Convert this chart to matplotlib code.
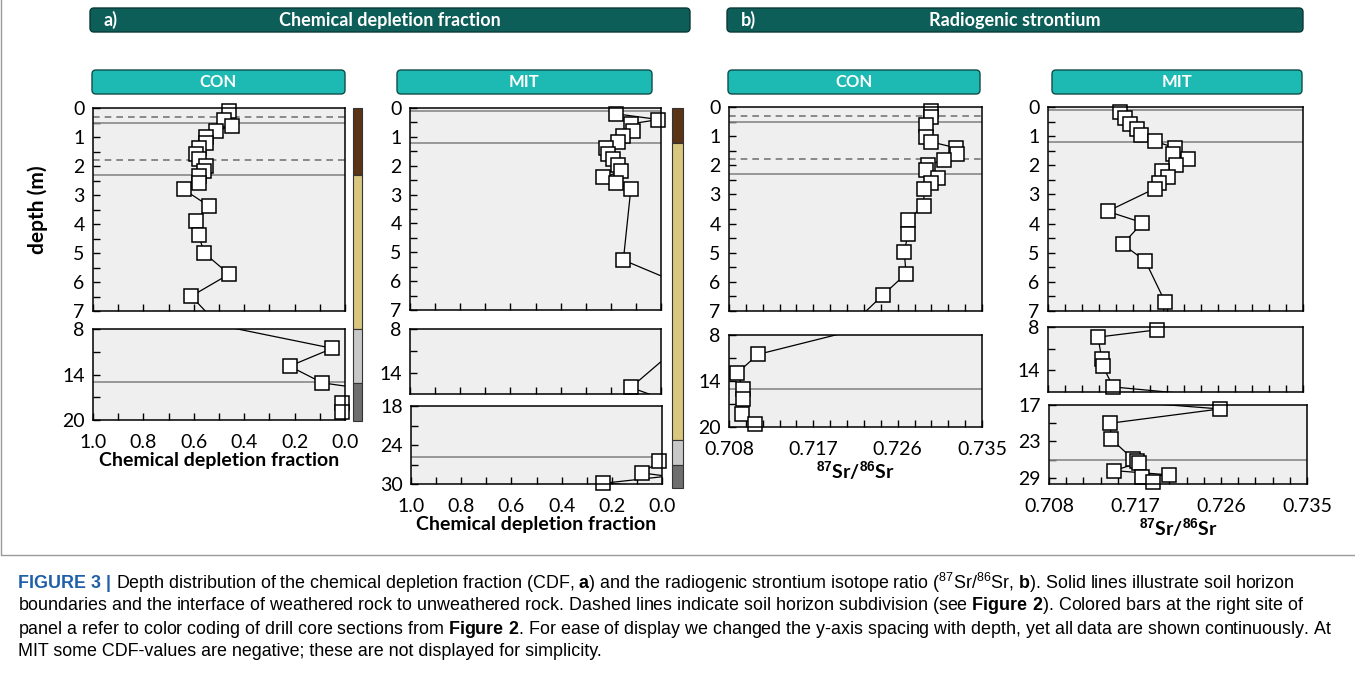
import numpy as np
import matplotlib
matplotlib.use("Agg")
from matplotlib import pyplot as plt
from matplotlib.patches import FancyBboxPatch, Rectangle

plt.rcParams['font.family'] = ['Lato', 'DejaVu Sans']
plt.rcParams['mathtext.fontset'] = 'custom'
plt.rcParams['mathtext.rm'] = 'Liberation Sans'
plt.rcParams['mathtext.bf'] = 'Liberation Sans:bold'

# 数据: CDF (CON / MIT), 深度 (m)
con_cdf = [0.46, 0.48, 0.45, 0.51, 0.55, 0.55, 0.58, 0.59, 0.58, 0.55, 0.56, 0.58, 0.58, 0.64,
           0.54, 0.59, 0.58, 0.56, 0.46, 0.61, 0.50, 0.05, 0.22, 0.09, -0.10, 0.01, 0.01]
con_cdf_depth = [0.12, 0.40, 0.61, 0.79, 1.00, 1.19, 1.39, 1.59, 1.77, 2.00, 2.18, 2.34, 2.60, 2.81,
                 3.38, 3.88, 4.37, 4.99, 5.73, 6.49, 7.50, 10.55, 12.90, 15.10, 16.0, 17.7, 18.9]
mit_cdf = [0.18, 0.01, 0.12, 0.11, 0.15, 0.17, 0.22, 0.21, 0.19, 0.17, 0.16, 0.23, 0.18, 0.12,
           0.15, -0.05, -0.10, -0.05, 0.12, -0.20, 0.01, 0.08, -0.02, 0.235, -0.05]
mit_cdf_depth = [0.20, 0.40, 0.55, 0.78, 0.98, 1.19, 1.39, 1.59, 1.77, 1.97, 2.20, 2.40, 2.60, 2.79,
                 5.27, 6.00, 8.00, 11.0, 16.0, 20.0, 26.5, 28.3, 28.8, 29.9, 30.5]

# 数据: 87Sr/86Sr
con_sr = [0.7296, 0.7296, 0.7290, 0.7290, 0.7296, 0.7322, 0.7323, 0.7309, 0.7292, 0.7290, 0.7303,
          0.7296, 0.7288, 0.7288, 0.7271, 0.7271, 0.7267, 0.7269, 0.7244, 0.7210, 0.7111, 0.7089,
          0.7095, 0.7095, 0.7094, 0.7108]
con_sr_depth = [0.14, 0.34, 0.63, 1.03, 1.20, 1.40, 1.60, 1.81, 2.00, 2.17, 2.43, 2.61, 2.80, 3.38,
                3.87, 4.37, 4.98, 5.72, 6.46, 7.50, 10.53, 12.93, 15.07, 16.30, 18.35, 19.60]
mit_sr = [0.7156, 0.7162, 0.7167, 0.7174, 0.7178, 0.7193, 0.7215, 0.7212, 0.7228, 0.7216, 0.7201,
          0.7207, 0.7198, 0.7193, 0.7143, 0.7180, 0.7159, 0.7183, 0.7204, 0.7195, 0.7133, 0.7137,
          0.7138, 0.7149, 0.7259, 0.7144, 0.7145, 0.7168, 0.7172, 0.7174, 0.7148, 0.7206, 0.7177, 0.7189]
mit_sr_depth = [0.17, 0.37, 0.57, 0.77, 0.97, 1.18, 1.40, 1.60, 1.80, 2.00, 2.21, 2.40, 2.61, 2.80,
                3.58, 3.97, 4.71, 5.28, 6.69, 8.40, 9.40, 12.5, 13.4, 16.3, 17.65, 20.0, 22.6, 25.9,
                26.2, 26.5, 27.8, 28.5, 28.8, 29.6]

W, H = 1355, 685
fig = plt.figure(figsize=(W / 100, H / 100), dpi=100)
TEAL = '#1dbab3'
DARK = '#0d5e58'


def box(x0, y0, x1, y1):
    return [x0 / W, 1 - y1 / H, (x1 - x0) / W, (y1 - y0) / H]


def panel(rect, xs, ys, xlim, ylim, yticks, yminor, xminor, xticks=None, xlabels=None,
          solid=(), dashed=()):
    ax = fig.add_axes(box(*rect))
    ax.set_facecolor('#efefef')
    for y in solid:
        ax.axhline(y, color='#888888', lw=1.2)
    for y in dashed:
        ax.axhline(y, color='#777777', lw=1.2, ls=(0, (4, 3)))
    xs = np.array(xs)
    ys = np.array(ys)
    ax.plot(xs, ys, color='black', lw=0.9)
    lo, hi = min(ylim), max(ylim)
    xlo, xhi = min(xlim), max(xlim)
    m = (ys >= lo) & (ys <= hi) & (xs >= xlo) & (xs <= xhi)
    ax.plot(xs[m], ys[m], ls='none', marker='s', ms=10, mfc='white', mec='black', mew=1.1,
            clip_on=False)
    ax.set_xlim(*xlim)
    ax.set_ylim(*ylim)
    ax.set_yticks(yticks)
    ax.set_yticklabels([str(t) for t in yticks], fontsize=14)
    ax.set_yticks(yminor, minor=True)
    ax.set_xticks(xminor, minor=True)
    if xticks is None:
        ax.set_xticks([])
    else:
        ax.set_xticks(xticks)
        ax.set_xticklabels(xlabels, fontsize=14)
    ax.tick_params(which='both', direction='in', length=5, width=1, pad=6)
    ax.tick_params(axis='x', which='major', length=5, pad=10)
    for s in ax.spines.values():
        s.set_linewidth(1.1)
    return ax


cdf_lim = (1.0, 0.0)
cdf_minor = np.arange(0.0, 1.01, 0.1)
cdf_ticks = [1.0, 0.8, 0.6, 0.4, 0.2, 0.0]
cdf_lab = ['%.1f' % t for t in cdf_ticks]
sr_lim = (0.708, 0.735)
sr_minor = np.arange(0.708, 0.7351, 0.0018)
sr_ticks = [0.708, 0.717, 0.726, 0.735]
sr_lab = ['%.3f' % t for t in sr_ticks]

# a) CON
panel((93, 108, 345, 311), con_cdf, con_cdf_depth, cdf_lim, (7, 0), list(range(8)),
      np.arange(0.5, 7, 1), cdf_minor, solid=(0.5, 2.3), dashed=(0.3, 1.8))
ax = panel((93, 329, 345, 420), con_cdf, con_cdf_depth, cdf_lim, (20, 8), [8, 14, 20],
           [11, 17], cdf_minor, cdf_ticks, cdf_lab, solid=(15.0,))
ax.set_xlabel('Chemical depletion fraction', fontsize=14, fontweight='bold', labelpad=1)
fig.text(38 / W, 1 - 210 / H, 'depth (m)', rotation=90, fontsize=15, fontweight='bold',
         ha='center', va='center')

# a) MIT
panel((410, 108, 661, 310), mit_cdf, mit_cdf_depth, cdf_lim, (7, 0), list(range(8)),
      np.arange(0.5, 7, 1), cdf_minor, solid=(0.1, 1.2))
panel((410, 329, 661, 394), mit_cdf, mit_cdf_depth, cdf_lim, (16.9, 8), [8, 14], [11],
      cdf_minor)
ax = panel((411, 406, 662, 484), mit_cdf, mit_cdf_depth, cdf_lim, (30, 18), [18, 24, 30],
           [21, 27], cdf_minor, cdf_ticks, cdf_lab, solid=(25.9,))
ax.set_xlabel('Chemical depletion fraction', fontsize=14, fontweight='bold', labelpad=1)

# b) CON
panel((729, 107, 982, 311), con_sr, con_sr_depth, sr_lim, (7, 0), list(range(8)),
      np.arange(0.5, 7, 1), sr_minor, solid=(0.5, 2.3), dashed=(0.3, 1.8))
ax = panel((729, 335, 982, 427), con_sr, con_sr_depth, sr_lim, (20, 8), [8, 14, 20],
           [11, 17], sr_minor, sr_ticks, sr_lab, solid=(15.0,))
ax.set_xlabel(r'$\mathbf{^{87}}$Sr/$\mathbf{^{86}}$Sr', fontsize=14, fontweight='bold', labelpad=1)

# b) MIT
panel((1048, 107, 1303, 311), mit_sr, mit_sr_depth, sr_lim, (7, 0), list(range(8)),
      np.arange(0.5, 7, 1), sr_minor, solid=(0.1, 1.2))
panel((1048, 327, 1303, 392), mit_sr, mit_sr_depth, sr_lim, (17, 8), [8, 14], [11], sr_minor)
ax = panel((1049, 405, 1307, 484), mit_sr, mit_sr_depth, sr_lim, (30, 17), [17, 23, 29],
           [20, 26], sr_minor, sr_ticks, sr_lab, solid=(26.0,))
ax.set_xlabel(r'$\mathbf{^{87}}$Sr/$\mathbf{^{86}}$Sr', fontsize=14, fontweight='bold', labelpad=1)

# 颜色条 (钻芯分段)
over = fig.add_axes([0, 0, 1, 1], facecolor='none')
over.set_xlim(0, W)
over.set_ylim(H, 0)
over.axis('off')
for x0, x1, segs in [(353, 362, [(108, 175, '#5b3416'), (175, 329, '#d9c67f'),
                                 (329, 383, '#c8c8c8'), (383, 421, '#6e6e6e')]),
                     (672, 683, [(108, 143, '#5b3416'), (143, 440, '#d9c67f'),
                                 (440, 465, '#c8c8c8'), (465, 488, '#6e6e6e')])]:
    for y0, y1, c in segs:
        over.add_patch(Rectangle((x0, y0), x1 - x0, y1 - y0, facecolor=c, edgecolor='#333333', lw=0.8))

# 标题框
for x0, x1, tag, title in [(90, 690, 'a)', 'Chemical depletion fraction'),
                           (727, 1303, 'b)', 'Radiogenic strontium')]:
    over.add_patch(FancyBboxPatch((x0, 8), x1 - x0, 24, boxstyle='round,pad=0,rounding_size=4',
                                  facecolor=DARK, edgecolor='#0a3a36', lw=1))
    over.text(x0 + 14, 20, tag, color='white', fontsize=13, fontweight='bold', va='center')
    over.text((x0 + x1) / 2, 20, title, color='white', fontsize=13, fontweight='bold',
              ha='center', va='center')
for x0, x1, name in [(92, 345, 'CON'), (397, 652, 'MIT'), (728, 980, 'CON'), (1052, 1302, 'MIT')]:
    over.add_patch(FancyBboxPatch((x0, 70), x1 - x0, 24, boxstyle='round,pad=0,rounding_size=4',
                                  facecolor=TEAL, edgecolor='#114c48', lw=1))
    over.text((x0 + x1) / 2, 82, name, color='white', fontsize=12, fontweight='bold',
              ha='center', va='center')

# 外框
over.plot([1, 1, 1354], [0, 555, 555], color='#999999', lw=1)

# 图注
lines = [
    r"Depth distribution of the chemical depletion fraction (CDF, $\mathbf{a}$) and the radiogenic strontium isotope ratio ($^{87}$Sr/$^{86}$Sr, $\mathbf{b}$). Solid lines illustrate soil horizon",
    r"boundaries and the interface of weathered rock to unweathered rock. Dashed lines indicate soil horizon subdivision (see $\mathbf{Figure\ 2}$). Colored bars at the right site of",
    r"panel a refer to color coding of drill core sections from $\mathbf{Figure\ 2}$. For ease of display we changed the y-axis spacing with depth, yet all data are shown continuously. At",
    r"MIT some CDF-values are negative; these are not displayed for simplicity.",
]
fs = 12.9
over.text(18, 583, 'FIGURE 3 |', color='#1f5fa8', fontsize=fs, fontweight='bold',
          family='Liberation Sans', va='center')
over.text(116, 583, lines[0], fontsize=fs, family='Liberation Sans', va='center')
for i, ln in enumerate(lines[1:]):
    over.text(18, 606 + 23 * i, ln, fontsize=fs, family='Liberation Sans', va='center')

plt.savefig('out.png', dpi=100)
